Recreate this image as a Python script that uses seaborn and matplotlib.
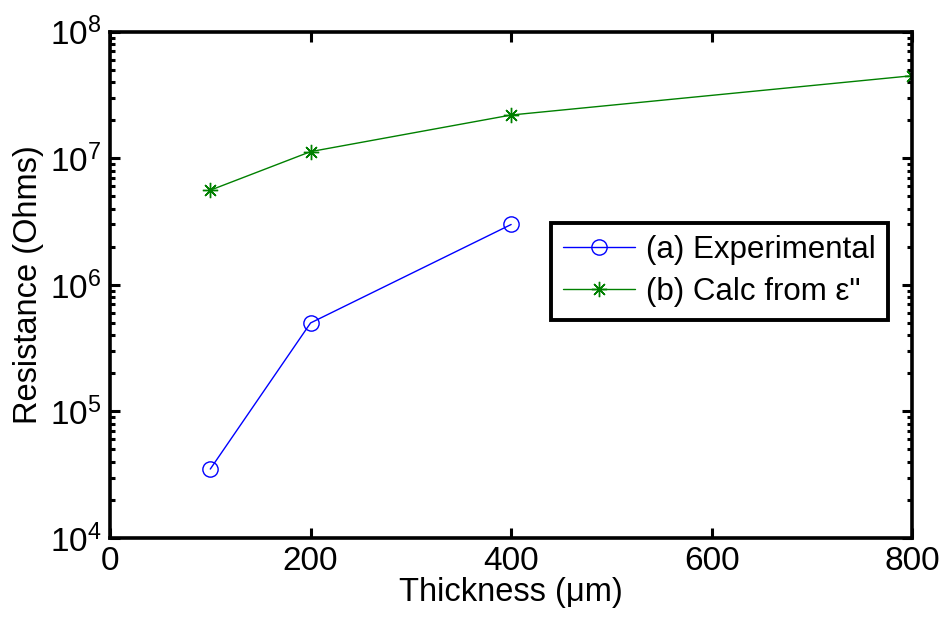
import numpy as np
import pandas as pd
import matplotlib
matplotlib.use("Agg")
import matplotlib.pyplot as plt
import seaborn as sns

thickness_exp = [100, 200, 400]
resistance_exp = [3.5e4, 5.0e5, 3.0e6]

thickness_calc = [100, 200, 400, 800]
resistance_calc = [5.6e6, 1.13e7, 2.2e7, 4.5e7]

sns.set_style("ticks")
plt.rcParams["font.family"] = ["Liberation Sans", "DejaVu Sans"]
plt.rcParams["mathtext.fontset"] = "custom"
plt.rcParams["mathtext.rm"] = "Liberation Sans"
plt.rcParams["text.color"] = "black"
plt.rcParams["axes.labelcolor"] = "black"
plt.rcParams["xtick.color"] = "black"
plt.rcParams["ytick.color"] = "black"

fig = plt.figure(figsize=(9.45, 6.24), dpi=100)
ax = fig.add_axes([0.1164, 0.138, 0.849, 0.811])

df_exp = pd.DataFrame({"t": thickness_exp, "r": resistance_exp})
df_calc = pd.DataFrame({"t": thickness_calc, "r": resistance_calc})

sns.lineplot(data=df_exp, x="t", y="r", ax=ax, color="#0000ff", lw=1,
             marker="o", markersize=11, markerfacecolor="none",
             markeredgecolor="#0000ff", markeredgewidth=1,
             label="(a) Experimental")
sns.lineplot(data=df_calc, x="t", y="r", ax=ax, color="#008000", lw=1,
             marker=(8, 2, 0), markersize=11, markeredgecolor="#008000",
             markeredgewidth=1, label="(b) Calc from ε\"")

ax.set_yscale("log")
ax.set_xlim(0, 800)
ax.set_ylim(1e4, 1e8)
ax.set_xticks([0, 200, 400, 600, 800])
ax.set_yticks([1e4, 1e5, 1e6, 1e7, 1e8])
ax.set_xlabel("Thickness (μm)", fontsize=23.5, labelpad=0)
ax.set_ylabel("Resistance (Ohms)", fontsize=23.5, labelpad=4)

for s in ax.spines.values():
    s.set_linewidth(2.6)
    s.set_color("black")
ax.tick_params(which="both", direction="in", top=True, right=True,
               labelsize=24, width=2.2)
ax.tick_params(which="major", length=7, pad=6)
ax.tick_params(which="minor", length=3.5)

leg = ax.legend(loc="upper right", bbox_to_anchor=(0.97, 0.6225),
                fontsize=22.5, frameon=True, fancybox=False,
                handlelength=2.3, borderpad=0.4, labelspacing=0.38,
                handletextpad=0.35, borderaxespad=0)
leg.get_frame().set_edgecolor("black")
leg.get_frame().set_linewidth(2.8)
leg.get_frame().set_alpha(1)

fig.savefig("out.png", dpi=100)
